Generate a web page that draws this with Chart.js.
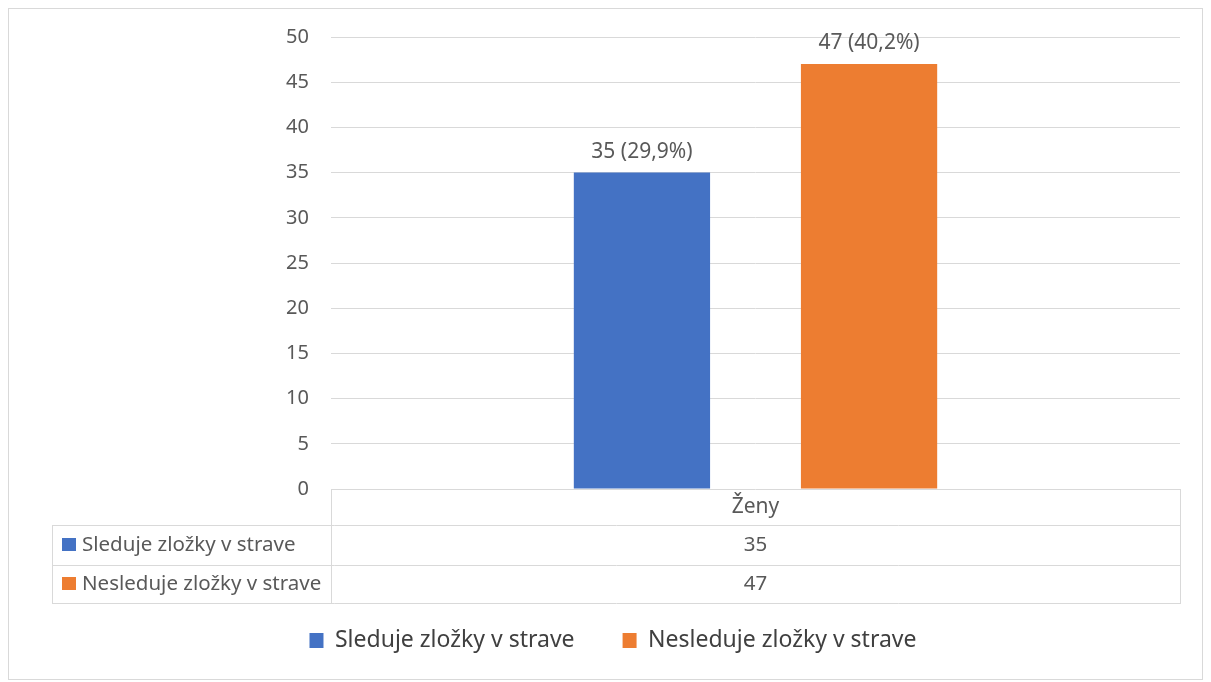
<!DOCTYPE html>
<html>
<head>
<meta charset="utf-8">
<script src="https://cdn.jsdelivr.net/npm/chart.js@4/dist/chart.umd.min.js"></script>
<style>
  html, body { margin: 0; padding: 0; background: #fff; }
  #wrap { width: 1211px; height: 682px; position: relative; }
</style>
</head>
<body>
<div id="wrap"><canvas id="chart" width="1211" height="682"></canvas></div>
<script>
// data
const categories = ['Ženy'];
const seriesNames = ['Sleduje zložky v strave', 'Nesleduje zložky v strave'];
const seriesValues = [[35], [47]];
const seriesPercents = [['29,9%'], ['40,2%']];
const seriesColors = ['#4472C4', '#ED7D31'];
const yTicks = [0, 5, 10, 15, 20, 25, 30, 35, 40, 45, 50];

const FONT = '"Noto Sans", sans-serif';
const TEXT = '#595959';
const GRID = '#d9d9d9';

// border, data labels and the data table under the plot
const tablePlugin = {
  id: 'tablePlugin',
  beforeDraw(chart) {
    const ctx = chart.ctx;
    ctx.save();
    ctx.strokeStyle = GRID;
    ctx.lineWidth = 1;
    ctx.strokeRect(8.5, 8.5, 1194, 671);
    ctx.restore();
  },
  afterDraw(chart) {
    const ctx = chart.ctx;
    const area = chart.chartArea;
    const x = chart.scales.x;
    const tableLeft = 52;
    const rowY = [area.bottom, area.bottom + 36, area.bottom + 76, area.bottom + 114];

    ctx.save();
    ctx.strokeStyle = GRID;
    ctx.lineWidth = 1;
    ctx.beginPath();
    ctx.moveTo(area.left + 0.5, rowY[0]);
    ctx.lineTo(area.left + 0.5, rowY[3]);
    ctx.moveTo(area.right + 0.5, rowY[0]);
    ctx.lineTo(area.right + 0.5, rowY[3]);
    ctx.moveTo(tableLeft + 0.5, rowY[1]);
    ctx.lineTo(tableLeft + 0.5, rowY[3]);
    for (let r = 1; r < rowY.length; r++) {
      ctx.moveTo(tableLeft, rowY[r] + 0.5);
      ctx.lineTo(area.right + 1, rowY[r] + 0.5);
    }
    ctx.stroke();

    ctx.fillStyle = TEXT;
    ctx.textBaseline = 'middle';
    ctx.textAlign = 'center';
    ctx.font = '21px ' + FONT;
    categories.forEach((c, i) => {
      ctx.fillText(c, x.getPixelForValue(i), (rowY[0] + rowY[1]) / 2);
    });

    ctx.font = '20.5px ' + FONT;
    seriesNames.forEach((name, s) => {
      const cy = (rowY[s + 1] + rowY[s + 2]) / 2;
      ctx.fillStyle = seriesColors[s];
      ctx.fillRect(tableLeft + 10, cy - 7, 14, 13);
      ctx.fillStyle = TEXT;
      ctx.textAlign = 'left';
      ctx.fillText(name, tableLeft + 30, cy);
      ctx.textAlign = 'center';
      seriesValues[s].forEach((v, i) => {
        ctx.fillText(String(v), x.getPixelForValue(i), cy);
      });
    });

    // data labels above bars
    ctx.font = '21px ' + FONT;
    chart.data.datasets.forEach((ds, s) => {
      const meta = chart.getDatasetMeta(s);
      meta.data.forEach((bar, i) => {
        ctx.fillText(ds.data[i] + ' (' + seriesPercents[s][i] + ')', bar.x, bar.y - 21);
      });
    });
    ctx.restore();
  }
};

new Chart(document.getElementById('chart'), {
  type: 'bar',
  data: {
    labels: categories,
    datasets: seriesNames.map((name, s) => ({
      label: name,
      data: seriesValues[s],
      backgroundColor: seriesColors[s],
      borderWidth: 0,
      categoryPercentage: 0.535,
      barPercentage: 0.6
    }))
  },
  options: {
    responsive: false,
    animation: false,
    layout: { padding: { top: 37, right: 31, bottom: 20, left: 46 } },
    scales: {
      x: {
        grid: { display: false },
        border: { display: false },
        ticks: { display: false },
        afterFit(scale) { scale.height = 92; }
      },
      y: {
        min: 0,
        max: 50,
        afterBuildTicks(scale) { scale.ticks = yTicks.map(v => ({ value: v })); },
        afterFit(scale) { scale.width = 285; },
        grid: { color: GRID, drawTicks: false },
        border: { display: false },
        ticks: { color: TEXT, font: { family: FONT, size: 20 }, padding: 22 }
      }
    },
    plugins: {
      legend: {
        position: 'bottom',
        labels: {
          color: '#404040',
          font: { family: FONT, size: 23 },
          boxWidth: 14,
          boxHeight: 15,
          padding: 48
        }
      },
      tooltip: { enabled: false }
    }
  },
  plugins: [tablePlugin]
});
</script>
</body>
</html>
